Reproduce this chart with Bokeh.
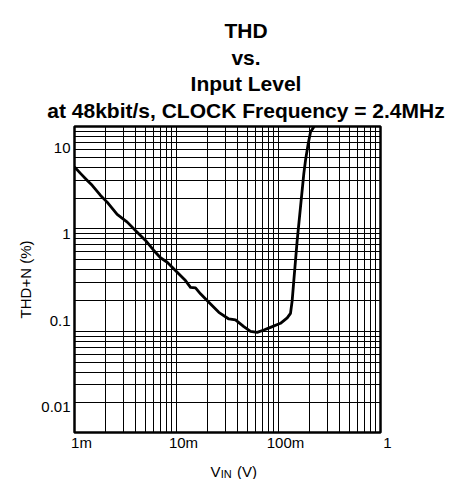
import math
from bokeh.plotting import figure
from bokeh.layouts import column
from bokeh.core.properties import value
from bokeh.models import (Range1d, FixedTicker, CustomJSTickFormatter, Label,
                          LabelSet, ColumnDataSource)
from bokeh.embed import file_html
from bokeh.resources import INLINE

# ---- data (V_IN in volts, THD+N in %) ----
vin = [0.001, 0.00115, 0.00135, 0.00149, 0.0018, 0.00209, 0.00262, 0.00329,
       0.00412, 0.00497, 0.00599, 0.00697, 0.00811, 0.01016, 0.01225, 0.01372,
       0.01536, 0.01719, 0.02074, 0.026, 0.03256, 0.03787, 0.04571, 0.05316,
       0.0618, 0.0718, 0.0835, 0.1046, 0.1217, 0.1311, 0.1362, 0.1413, 0.1525,
       0.1643, 0.1771, 0.184, 0.1955, 0.206, 0.222, 0.23]
thd = [6.01, 5.04, 4.14, 3.69, 2.82, 2.36, 1.70, 1.385, 1.06, 0.85, 0.651,
       0.536, 0.476, 0.3645, 0.292, 0.244, 0.240, 0.205, 0.1637, 0.1253, 0.105,
       0.1023, 0.0856, 0.0755, 0.0735, 0.0783, 0.084, 0.0935, 0.108, 0.122,
       0.171, 0.292, 0.85, 2.07, 5.04, 7.19, 11.2, 15.3, 17.5, 20.0]

x_ticks = [0.001, 0.01, 0.1, 1]
x_tick_labels = ["1m", "10m", "100m", "1"]
y_ticks = [0.01, 0.1, 1, 10]
title_lines = ["THD", "vs.", "Input Level",
               "at 48kbit/s, CLOCK Frequency = 2.4MHz"]

FONT = "Liberation Sans, Arial, sans-serif"
W = 451
BORDER_L, BORDER_R = 74, 71
FRAME_W = W - BORDER_L - BORDER_R
X_DECADES = 3


def blank(height, **kw):
    f = figure(width=W, height=height, output_backend="svg", toolbar_location=None,
               title=None, x_axis_location=None, y_axis_location=None,
               min_border=0, **kw)
    f.frame_align = False
    f.outline_line_color = None
    f.background_fill_color = "white"
    f.border_fill_color = "white"
    for g in f.grid:
        g.visible = False
    return f


# ---------------- title strip ----------------
top = blank(124, x_range=Range1d(0, 1), y_range=Range1d(0, 1))
for i, t in enumerate(title_lines):
    top.add_layout(Label(x=245.5, y=94 - i * 26.6, x_units="screen", y_units="screen",
                         text=t, text_align="center", text_baseline="alphabetic",
                         text_font=FONT, text_font_size="21px",
                         text_font_style="bold", text_color="black"))

# ---------------- main chart ----------------
p = figure(width=W, height=310, x_axis_type="log", y_axis_type="log",
           x_range=Range1d(0.001, 1), y_range=Range1d(0.0051, 17.7),
           output_backend="svg", toolbar_location=None, title=None,
           min_border_left=BORDER_L, min_border_right=BORDER_R,
           min_border_top=2, min_border_bottom=2)
p.frame_align = False
p.background_fill_color = "white"
p.border_fill_color = "white"
p.outline_line_color = "black"
p.outline_line_width = 2.5

# grid: printed grid is a 3-decade log grid (0.01..10) whose scale differs
# slightly from the tick labels' scale; map it onto the labelled axis
decades = [0.001, 0.01, 0.1]
x_grid = [m * d for d in decades for m in range(1, 10)] + [1]
grid_vals = [m * d for d in [0.01, 0.1, 1] for m in range(1, 10)] + [10]
y_grid = [10 ** (0.0626 + 1.1848 * math.log10(g)) for g in grid_vals]

p.xgrid.ticker = FixedTicker(ticks=x_grid)
p.ygrid.ticker = FixedTicker(ticks=y_grid)
for g in (p.xgrid, p.ygrid):
    g.grid_line_color = "black"
    g.grid_line_alpha = 1.0
    g.grid_line_width = 1

p.xaxis.visible = False

ya = p.yaxis[0]
ya.ticker = FixedTicker(ticks=y_ticks)
ya.formatter = CustomJSTickFormatter(code="return tick.toString();")
ya.major_tick_line_color = None
ya.minor_tick_line_color = None
ya.major_tick_out = 0
ya.minor_tick_out = 0
ya.major_tick_in = 0
ya.minor_tick_in = 0
ya.axis_line_color = None
ya.major_label_standoff = 4
ya.major_label_text_font = FONT
ya.major_label_text_font_size = "15px"
ya.major_label_text_color = "black"
ya.axis_label = "THD+N (%)"
ya.axis_label_text_font = FONT
ya.axis_label_text_font_size = "15px"
ya.axis_label_text_font_style = "normal"
ya.axis_label_text_color = "black"
ya.axis_label_standoff = 4

p.line(vin, thd, line_color="black", line_width=2.8, line_join="round")

# ---------------- x tick labels and x title strip ----------------
# same log scale as the main chart, extended over the full strip width
dec_px = FRAME_W / X_DECADES
bx_lo = 10 ** (math.log10(x_ticks[0]) - BORDER_L / dec_px)
bx_hi = 10 ** (math.log10(x_ticks[-1]) + BORDER_R / dec_px)
bot = blank(45, x_range=Range1d(bx_lo, bx_hi), y_range=Range1d(0, 1),
            x_axis_type="log")
src = ColumnDataSource(dict(x=x_ticks, text=x_tick_labels))
bot.add_layout(LabelSet(x="x", y=31.7, y_units="screen", text="text", source=src,
                        x_offset=7, text_align="center", text_baseline="alphabetic",
                        text_font=value(FONT), text_font_size=value("15px"),
                        text_color="black"))
bot.add_layout(Label(x=210, y=8.0, x_units="screen", y_units="screen", text="V",
                     text_align="left", text_baseline="alphabetic", text_font=FONT,
                     text_font_size="15px", text_color="black"))
bot.add_layout(Label(x=220.3, y=5.4, x_units="screen", y_units="screen", text="IN",
                     text_align="left", text_baseline="alphabetic", text_font=FONT,
                     text_font_size="11px", text_color="black"))
bot.add_layout(Label(x=236.5, y=8.0, x_units="screen", y_units="screen", text="(V)",
                     text_align="left", text_baseline="alphabetic", text_font=FONT,
                     text_font_size="15px", text_color="black"))

layout = column(top, p, bot, spacing=0)
open("out.html", "w").write(file_html(layout, INLINE))
